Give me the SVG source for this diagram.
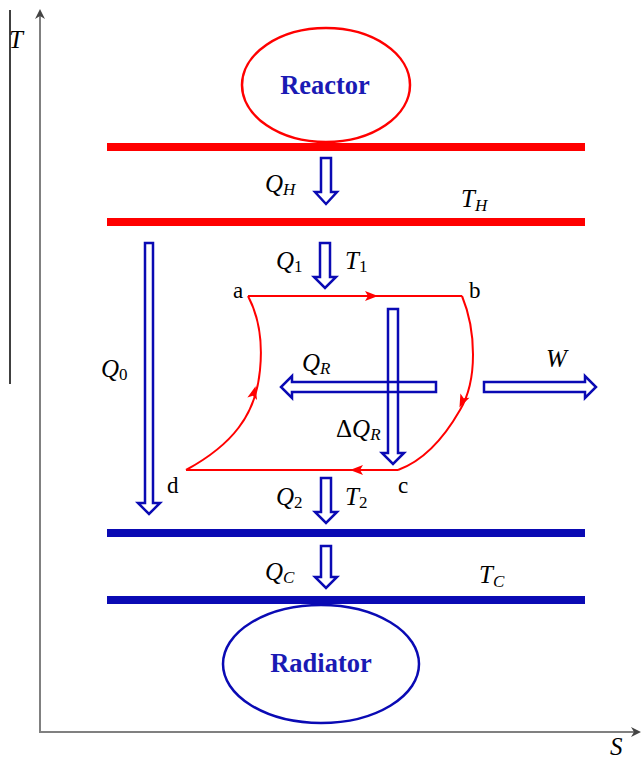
<svg xmlns="http://www.w3.org/2000/svg" width="642" height="759" viewBox="0 0 642 759">
<style>
.rbar{stroke:#ff0000;stroke-width:8}
.bbar{stroke:#0a0ab4;stroke-width:8}
.harrow{fill:#fff;stroke:#0a0ab4;stroke-width:2.5;stroke-linejoin:miter}
.xarrow{fill:none;stroke:#0a0ab4;stroke-width:2.5}
.cyc{fill:none;stroke:#ff0000;stroke-width:2}
text{font-family:'Liberation Serif','DejaVu Serif','Times New Roman',serif}
.lbl{font-size:25px;fill:#000}
.ltr{font-size:23px;fill:#000}
.it{font-style:italic}
.sub{font-size:17px}
.name{font-size:26.5px;font-weight:bold;fill:#1a1ab4}
.axis{stroke:#808080;stroke-width:2}
</style>
<defs>
<marker id="ah" viewBox="0 0 10 10" refX="5" refY="5" markerWidth="10" markerHeight="10" markerUnits="userSpaceOnUse" orient="auto">
<path d="M0,0 L10,5 L0,10 L3,5 Z" fill="#444"/>
</marker>
<path id="redhead" d="M-7,-5 L6,0 L-7,5 L-4,0 Z" fill="#ff0000"/>
</defs>

<g id="axes">
<line x1="10" y1="10" x2="10" y2="384" stroke="#000" stroke-width="1.5"/>
<line class="axis" x1="40" y1="732" x2="40" y2="14" marker-end="url(#ah)"/>
<line class="axis" x1="39" y1="732" x2="636" y2="732" marker-end="url(#ah)"/>
<text class="lbl it" x="9" y="48">T</text>
<text class="lbl it" x="610" y="755">S</text>
</g>

<g id="reactor">
<ellipse cx="326" cy="85" rx="84" ry="57" fill="#fff" stroke="#ff0000" stroke-width="2.5"/>
<text class="name" x="325" y="94" text-anchor="middle">Reactor</text>
</g>

<g id="hot-bar-1"><line class="rbar" x1="107" y1="147" x2="585" y2="147"/></g>
<g id="hot-bar-2"><line class="rbar" x1="107" y1="222" x2="585" y2="222"/>
<text class="lbl it" x="461" y="207">T<tspan class="sub" dy="4">H</tspan></text></g>

<g id="cold-bar-1"><line class="bbar" x1="107" y1="533" x2="585" y2="533"/></g>
<g id="cold-bar-2"><line class="bbar" x1="107" y1="600" x2="585" y2="600"/>
<text class="lbl it" x="479" y="583">T<tspan class="sub" dy="4">C</tspan></text></g>

<g id="radiator">
<ellipse cx="321" cy="664" rx="98" ry="59" fill="#fff" stroke="#0a0ab4" stroke-width="2.5"/>
<text class="name" x="321" y="672" text-anchor="middle">Radiator</text>
</g>

<g id="cycle">
<path class="cyc" d="M248,296 H462"/>
<path class="cyc" d="M462,296 C476,330 478,380 460,410 C440,445 420,462 398,470"/>
<path class="cyc" d="M398,470 H186"/>
<path class="cyc" d="M186,470 C232,445 256,415 260,370 C263,340 258,315 248,296"/>
<use href="#redhead" transform="translate(372,296)"/>
<use href="#redhead" transform="translate(462,402) rotate(115)"/>
<use href="#redhead" transform="translate(356,470) rotate(180)"/>
<use href="#redhead" transform="translate(254,392) rotate(-75)"/>
<text class="ltr" x="233" y="298">a</text>
<text class="ltr" x="469" y="298">b</text>
<text class="ltr" x="398" y="493">c</text>
<text class="ltr" x="167" y="493">d</text>
</g>

<g id="connectors">
<g id="QH">
<path class="harrow" d="M321,158 H331 V192 H337 L326,204 L315,192 H321 Z"/>
<text class="lbl it" x="265" y="192">Q<tspan class="sub" dy="3">H</tspan></text>
</g>
<g id="Q1">
<path class="harrow" d="M320,243 H330 V277 H336 L325,288 L314,277 H320 Z"/>
<text class="lbl it" x="276" y="269">Q<tspan class="sub" dy="3" font-style="normal">1</tspan></text>
<text class="lbl it" x="345" y="269">T<tspan class="sub" dy="3" font-style="normal">1</tspan></text>
</g>
<g id="Q0">
<path class="harrow" d="M145,243 H153 V503 H160 L149,514 L138,503 H145 Z"/>
<text class="lbl it" x="101" y="377">Q<tspan class="sub" dy="3" font-style="normal">0</tspan></text>
</g>
<g id="Q2">
<path class="harrow" d="M321,478 H331 V512 H337 L326,523 L315,512 H321 Z"/>
<text class="lbl it" x="276" y="505">Q<tspan class="sub" dy="3" font-style="normal">2</tspan></text>
<text class="lbl it" x="345" y="505">T<tspan class="sub" dy="3" font-style="normal">2</tspan></text>
</g>
<g id="QC">
<path class="harrow" d="M321,546 H331 V577 H337 L326,588 L315,577 H321 Z"/>
<text class="lbl it" x="265" y="580">Q<tspan class="sub" dy="3">C</tspan></text>
</g>
<g id="QR">
<path class="xarrow" d="M436,382 V392 H292 V398 L281,387 L292,376 V382 Z"/>
<text class="lbl it" x="302" y="371">Q<tspan class="sub" dy="3">R</tspan></text>
</g>
<g id="dQR">
<path class="xarrow" d="M388,309 H398 V453 H404 L393,464 L382,453 H388 Z"/>
<text class="lbl" x="336" y="437">Δ<tspan class="it">Q</tspan><tspan class="sub it" dy="3">R</tspan></text>
</g>
<g id="W">
<path class="harrow" d="M484,382 H585 V376 L596,387 L585,398 V392 H484 Z"/>
<text class="lbl it" x="546" y="367">W</text>
</g>
</g>
</svg>
